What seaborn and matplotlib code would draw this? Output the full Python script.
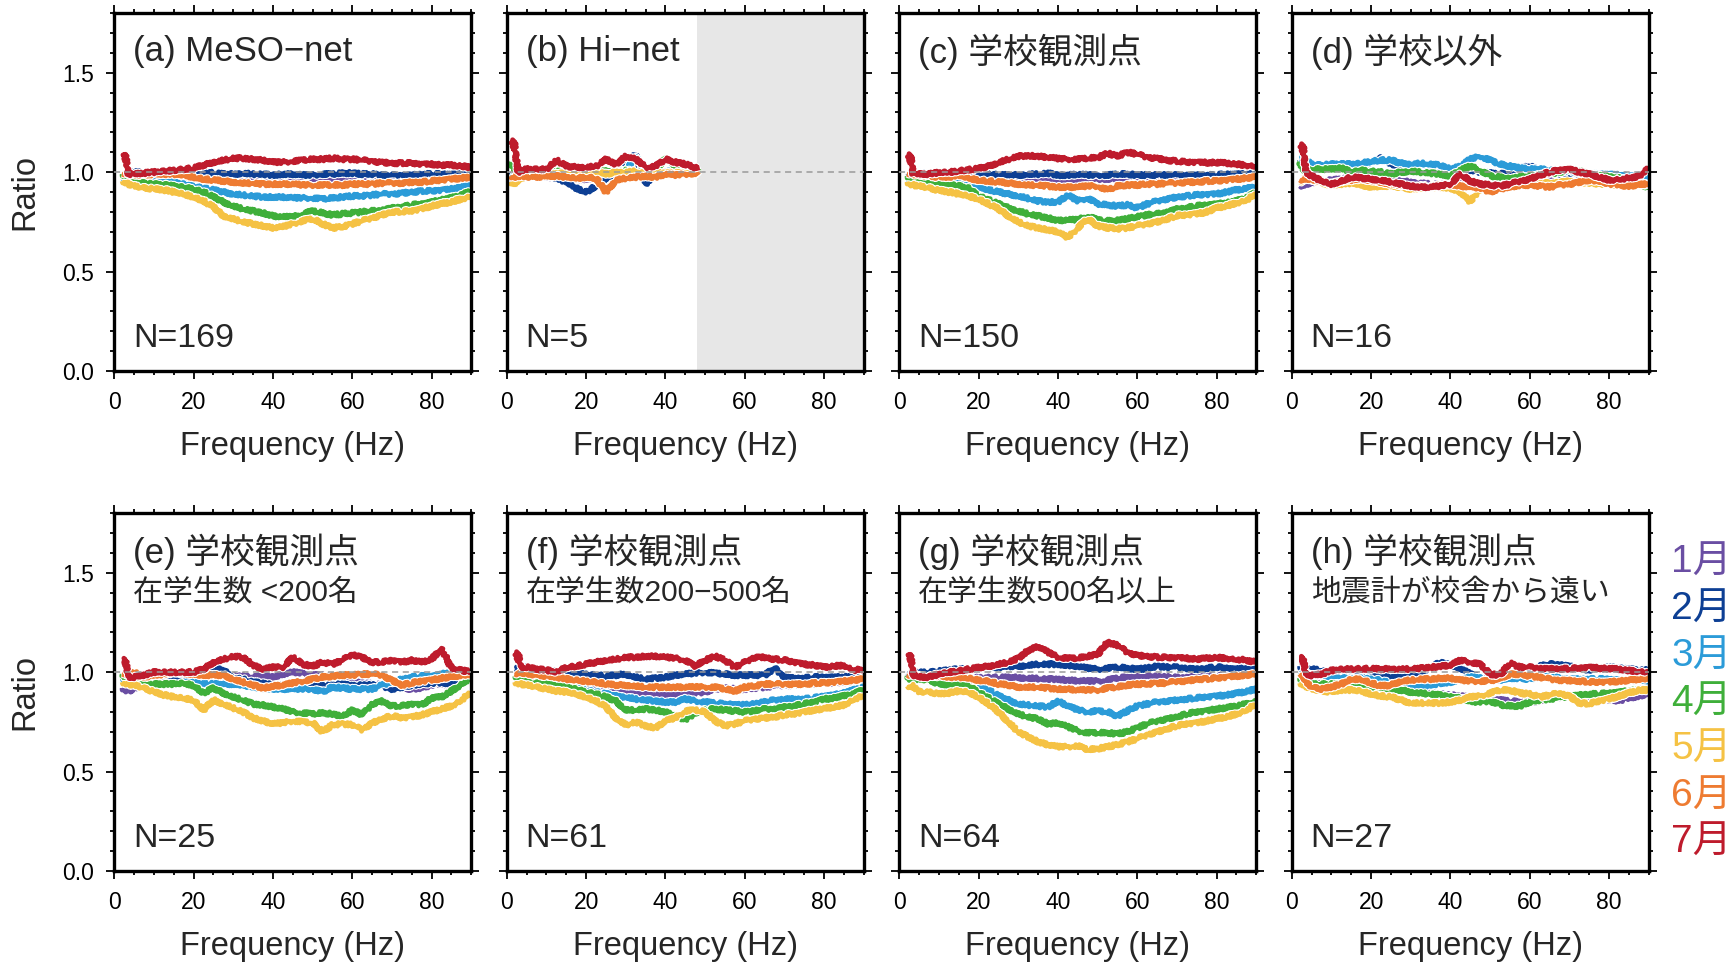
import matplotlib
matplotlib.use("Agg")
import matplotlib.pyplot as plt
import matplotlib.patheffects as pe
from matplotlib.ticker import MultipleLocator, FormatStrFormatter
import pandas as pd
import seaborn as sns

# frequency grid (Hz) the curves were read at
FREQ = [2, 2.8, 3.5, 5, 7.5, 10, 12.5, 15, 17.5, 20, 22.5, 25, 27.5, 30, 32.5, 35, 37.5, 40, 42.5,
        45, 47.5, 50, 52.5, 55, 57.5, 60, 62.5, 65, 67.5, 70, 72.5, 75, 77.5, 80, 82.5, 85, 87.5, 90]
FREQ_B = [1, 1.8, 2.8, 5, 7.5, 10, 12.5, 15, 17.5, 20, 22.5, 25, 27.5, 30, 32.5, 35, 37.5, 40, 42.5, 45, 48.5]

MONTHS = ["1月", "2月", "3月", "4月", "5月", "6月", "7月"]
COLORS = ["#6a4ea3", "#0d3f94", "#2b9bd8", "#3faf3a", "#f5c244", "#ee7b31", "#be1b2c"]

# (a) MeSO-net
a1 = [0.96, 0.975, 0.98, 0.985, 0.985, 0.98, 0.98, 0.98, 0.975, 0.975, 0.975, 0.97, 0.97, 0.97, 0.965, 0.965, 0.965, 0.965, 0.965,
      0.96, 0.965, 0.965, 0.965, 0.965, 0.97, 0.97, 0.97, 0.97, 0.97, 0.965, 0.965, 0.965, 0.965, 0.965, 0.97, 0.97, 0.975, 0.975]
a2 = [0.99, 1.0, 1.0, 1.0, 1.0, 0.995, 1.0, 1.0, 1.005, 1.0, 1.0, 0.995, 0.99, 0.99, 0.995, 0.99, 0.99, 0.985, 0.99,
      0.99, 0.985, 0.985, 0.99, 0.99, 0.995, 0.995, 0.99, 0.99, 0.985, 0.985, 0.985, 0.985, 0.99, 0.99, 0.99, 0.99, 0.995, 0.995]
a3 = [0.97, 0.975, 0.98, 0.98, 0.975, 0.965, 0.96, 0.95, 0.94, 0.93, 0.92, 0.91, 0.9, 0.89, 0.885, 0.88, 0.875, 0.875, 0.875,
      0.87, 0.87, 0.87, 0.865, 0.87, 0.875, 0.88, 0.88, 0.885, 0.89, 0.89, 0.895, 0.9, 0.905, 0.905, 0.91, 0.915, 0.925, 0.93]
a4 = [0.99, 0.98, 0.965, 0.955, 0.945, 0.94, 0.935, 0.93, 0.925, 0.915, 0.9, 0.875, 0.85, 0.83, 0.815, 0.805, 0.795, 0.78, 0.775,
      0.775, 0.79, 0.805, 0.795, 0.785, 0.79, 0.795, 0.8, 0.805, 0.81, 0.82, 0.825, 0.835, 0.84, 0.85, 0.86, 0.87, 0.885, 0.905]
a5 = [0.955, 0.95, 0.94, 0.93, 0.92, 0.915, 0.91, 0.9, 0.89, 0.875, 0.855, 0.825, 0.78, 0.765, 0.75, 0.74, 0.73, 0.72, 0.725,
      0.74, 0.755, 0.765, 0.74, 0.72, 0.725, 0.74, 0.755, 0.77, 0.785, 0.8, 0.8, 0.805, 0.815, 0.83, 0.84, 0.85, 0.865, 0.88]
a6 = [0.99, 1.0, 0.99, 0.985, 0.985, 0.99, 0.99, 0.99, 0.985, 0.975, 0.965, 0.96, 0.955, 0.95, 0.945, 0.945, 0.94, 0.94, 0.94,
      0.94, 0.935, 0.935, 0.935, 0.935, 0.935, 0.94, 0.94, 0.94, 0.945, 0.945, 0.945, 0.95, 0.95, 0.955, 0.96, 0.965, 0.97, 0.975]
a7 = [1.06, 1.09, 0.99, 0.99, 0.995, 1.0, 1.005, 1.01, 1.015, 1.02, 1.035, 1.05, 1.06, 1.07, 1.07, 1.065, 1.06, 1.05, 1.05,
      1.055, 1.06, 1.065, 1.065, 1.07, 1.065, 1.065, 1.06, 1.055, 1.05, 1.045, 1.045, 1.045, 1.04, 1.04, 1.035, 1.035, 1.03, 1.025]

# (b) Hi-net (only up to ~48 Hz)
b1 = [0.97, 0.97, 0.975, 0.98, 0.98, 0.975, 0.97, 0.97, 0.965, 0.965, 0.97, 0.975, 0.98, 0.98, 0.98, 0.98, 0.985, 0.99, 0.99, 0.99, 0.995]
b2 = [1.0, 1.0, 1.0, 0.995, 0.99, 0.985, 0.97, 0.95, 0.92, 0.9, 0.93, 0.97, 0.99, 1.04, 1.09, 0.94, 0.99, 1.0, 1.0, 1.0, 1.0]
b3 = [0.98, 0.99, 0.99, 1.0, 1.0, 1.0, 0.995, 0.99, 0.99, 0.99, 0.995, 1.0, 1.0, 1.01, 1.08, 1.0, 1.0, 1.0, 1.01, 1.01, 1.0]
b4 = [1.05, 1.02, 1.0, 1.0, 1.0, 1.0, 1.0, 1.01, 1.005, 1.0, 1.0, 1.005, 1.0, 1.01, 1.0, 1.0, 1.01, 1.07, 1.03, 1.02, 1.01]
b5 = [0.95, 0.94, 0.96, 0.975, 0.98, 0.985, 0.99, 0.995, 0.99, 1.0, 1.0, 0.99, 1.0, 1.0, 1.005, 0.99, 1.0, 0.995, 1.0, 0.99, 1.0]
b6 = [0.98, 0.975, 0.98, 0.975, 0.975, 0.98, 0.98, 0.975, 0.97, 0.975, 0.97, 0.9, 0.96, 0.97, 0.975, 0.98, 0.975, 0.99, 0.985, 0.99, 0.995]
b7 = [1.12, 1.16, 1.0, 1.015, 1.015, 1.015, 1.06, 1.03, 1.025, 1.025, 1.03, 1.065, 1.04, 1.08, 1.065, 1.025, 1.03, 1.065, 1.05, 1.04, 1.015]

# (c) school stations
c1 = [0.96, 0.975, 0.98, 0.985, 0.98, 0.98, 0.975, 0.975, 0.975, 0.97, 0.97, 0.97, 0.965, 0.965, 0.965, 0.965, 0.965, 0.965, 0.965,
      0.96, 0.96, 0.965, 0.965, 0.965, 0.97, 0.97, 0.97, 0.965, 0.965, 0.963, 0.965, 0.965, 0.97, 0.97, 0.97, 0.975, 0.975, 0.98]
c2 = [0.995, 1.0, 1.0, 0.995, 0.995, 0.995, 0.99, 0.99, 0.99, 0.99, 0.99, 0.985, 0.985, 0.985, 0.99, 0.99, 0.995, 0.985, 0.985,
      0.99, 0.985, 0.985, 0.985, 0.99, 0.99, 0.985, 0.985, 0.985, 0.985, 0.985, 0.985, 0.985, 0.985, 0.985, 0.99, 0.99, 0.99, 0.99]
c3 = [0.965, 0.97, 0.97, 0.965, 0.957, 0.95, 0.945, 0.94, 0.932, 0.925, 0.912, 0.9, 0.89, 0.88, 0.868, 0.855, 0.85, 0.85, 0.885,
      0.855, 0.87, 0.84, 0.835, 0.83, 0.835, 0.82, 0.84, 0.855, 0.865, 0.875, 0.88, 0.885, 0.888, 0.89, 0.9, 0.91, 0.918, 0.925]
c4 = [0.98, 0.97, 0.96, 0.95, 0.945, 0.94, 0.935, 0.93, 0.92, 0.88, 0.86, 0.84, 0.82, 0.805, 0.79, 0.78, 0.77, 0.757, 0.76,
      0.76, 0.78, 0.76, 0.755, 0.757, 0.765, 0.775, 0.785, 0.79, 0.8, 0.815, 0.82, 0.83, 0.835, 0.84, 0.845, 0.855, 0.87, 0.9]
c5 = [0.95, 0.94, 0.935, 0.93, 0.92, 0.907, 0.9, 0.89, 0.88, 0.865, 0.84, 0.815, 0.78, 0.75, 0.73, 0.72, 0.71, 0.70, 0.67,
      0.72, 0.765, 0.73, 0.72, 0.715, 0.72, 0.73, 0.74, 0.75, 0.765, 0.78, 0.785, 0.79, 0.8, 0.82, 0.83, 0.845, 0.86, 0.89]
c6 = [0.99, 1.0, 0.99, 0.985, 0.98, 0.975, 0.975, 0.985, 0.97, 0.96, 0.955, 0.95, 0.945, 0.94, 0.935, 0.935, 0.93, 0.925, 0.925,
      0.925, 0.93, 0.93, 0.91, 0.93, 0.935, 0.935, 0.94, 0.94, 0.945, 0.945, 0.95, 0.95, 0.955, 0.955, 0.96, 0.965, 0.97, 0.975]
c7 = [1.05, 1.09, 0.99, 0.99, 0.99, 0.998, 1.0, 1.007, 1.012, 1.018, 1.03, 1.048, 1.065, 1.08, 1.083, 1.08, 1.075, 1.068, 1.065,
      1.065, 1.07, 1.073, 1.095, 1.08, 1.1, 1.09, 1.075, 1.07, 1.06, 1.055, 1.05, 1.05, 1.048, 1.048, 1.045, 1.04, 1.035, 1.03]

# (d) non-school stations
d1 = [0.93, 0.935, 0.94, 0.945, 0.955, 0.96, 0.965, 0.97, 0.965, 0.965, 0.96, 0.955, 0.955, 0.95, 0.945, 0.94, 0.94, 0.94, 0.945,
      0.94, 0.935, 0.93, 0.935, 0.94, 0.945, 0.95, 0.955, 0.955, 0.955, 0.96, 0.96, 0.96, 0.955, 0.955, 0.95, 0.95, 0.945, 0.945]
d2 = [1.06, 1.05, 1.02, 1.03, 1.04, 1.035, 1.035, 1.03, 1.035, 1.05, 1.07, 1.04, 1.035, 1.04, 1.04, 1.035, 1.025, 1.02, 1.0,
      1.01, 1.0, 0.995, 0.99, 1.0, 1.02, 1.03, 1.01, 1.0, 0.99, 0.99, 0.985, 0.98, 0.975, 0.97, 0.965, 0.96, 0.955, 0.95]
d3 = [1.05, 1.07, 1.06, 1.04, 1.035, 1.04, 1.04, 1.04, 1.045, 1.055, 1.06, 1.06, 1.045, 1.04, 1.045, 1.04, 1.035, 1.015, 1.03,
      1.065, 1.08, 1.06, 1.04, 1.03, 1.02, 1.015, 1.015, 1.01, 1.005, 1.005, 1.0, 0.99, 0.99, 0.99, 0.985, 0.98, 0.98, 0.975]
d4 = [1.05, 1.02, 1.0, 1.015, 1.015, 1.015, 1.02, 1.0, 1.01, 1.005, 1.0, 0.99, 1.0, 1.005, 1.0, 0.995, 0.99, 0.98, 1.01,
      1.03, 1.01, 0.98, 0.975, 0.965, 0.975, 0.98, 0.985, 0.99, 1.0, 1.015, 1.005, 0.99, 0.985, 0.975, 0.97, 0.96, 0.945, 0.92]
d5 = [0.95, 0.96, 0.97, 0.96, 0.945, 0.935, 0.94, 0.945, 0.935, 0.925, 0.93, 0.93, 0.925, 0.915, 0.92, 0.925, 0.925, 0.92, 0.9,
      0.85, 0.92, 0.925, 0.935, 0.935, 0.935, 0.94, 0.945, 0.945, 0.95, 0.955, 0.95, 0.945, 0.94, 0.94, 0.935, 0.93, 0.935, 0.94]
d6 = [0.96, 0.965, 0.97, 0.96, 0.955, 0.94, 0.955, 0.96, 0.965, 0.96, 0.95, 0.94, 0.935, 0.93, 0.93, 0.93, 0.935, 0.94, 0.93,
      0.925, 0.92, 0.9, 0.915, 0.925, 0.935, 0.935, 0.93, 0.925, 0.935, 0.94, 0.95, 0.96, 0.955, 0.94, 0.935, 0.93, 0.935, 0.945]
d7 = [1.1, 1.14, 1.0, 0.98, 0.955, 0.94, 0.955, 0.975, 0.97, 0.965, 0.96, 0.95, 0.94, 0.93, 0.925, 0.925, 0.93, 0.94, 0.99,
      0.955, 0.94, 0.935, 0.93, 0.94, 0.955, 0.965, 0.985, 1.0, 1.01, 1.015, 1.0, 0.99, 0.975, 0.96, 0.965, 0.97, 0.98, 1.02]

# (e) schools, < 200 pupils
e1 = [0.92, 0.91, 0.905, 0.915, 0.945, 0.965, 0.97, 0.975, 0.975, 0.975, 0.98, 0.99, 0.985, 0.985, 0.98, 0.975, 0.985, 0.975, 0.99,
      1.0, 0.995, 0.985, 0.985, 0.975, 0.96, 0.95, 0.945, 0.94, 0.935, 0.925, 0.92, 0.915, 0.92, 0.935, 0.94, 0.94, 0.95, 0.97]
e2 = [0.99, 0.98, 0.975, 0.975, 0.98, 0.985, 0.98, 0.975, 0.975, 0.97, 0.985, 1.02, 1.01, 0.97, 0.965, 0.95, 0.945, 0.935, 0.935,
      0.93, 0.935, 0.935, 0.935, 0.935, 0.94, 0.93, 0.935, 0.935, 0.93, 0.915, 0.925, 0.935, 0.94, 0.945, 0.945, 0.945, 0.97, 0.985]
e3 = [0.97, 0.965, 0.97, 0.97, 0.975, 0.985, 0.99, 1.0, 0.99, 0.95, 0.945, 0.94, 0.94, 0.94, 0.935, 0.925, 0.92, 0.917, 0.915,
      0.915, 0.915, 0.915, 0.9, 0.925, 0.92, 0.915, 0.915, 0.915, 0.935, 0.95, 0.965, 0.975, 0.98, 0.98, 0.99, 1.0, 0.995, 0.99]
e4 = [0.99, 0.975, 0.965, 0.95, 0.935, 0.94, 0.94, 0.94, 0.945, 0.933, 0.895, 0.92, 0.895, 0.875, 0.86, 0.84, 0.835, 0.825, 0.815,
      0.8, 0.795, 0.79, 0.795, 0.79, 0.775, 0.81, 0.785, 0.84, 0.855, 0.83, 0.83, 0.84, 0.835, 0.87, 0.875, 0.905, 0.94, 0.975]
e5 = [0.95, 0.945, 0.94, 0.935, 0.92, 0.9, 0.885, 0.875, 0.87, 0.86, 0.81, 0.86, 0.84, 0.82, 0.8, 0.77, 0.755, 0.74, 0.745,
      0.755, 0.75, 0.745, 0.7, 0.735, 0.74, 0.735, 0.71, 0.745, 0.765, 0.78, 0.77, 0.775, 0.785, 0.8, 0.815, 0.83, 0.86, 0.9]
e6 = [0.99, 1.0, 0.985, 1.0, 0.975, 0.985, 0.99, 1.0, 0.995, 0.99, 0.985, 0.985, 0.985, 0.965, 0.95, 0.935, 0.92, 0.93, 0.935,
      0.945, 0.955, 0.965, 0.975, 0.98, 0.985, 0.985, 0.99, 0.99, 0.985, 0.96, 0.935, 0.945, 0.955, 0.96, 0.97, 0.975, 0.985, 0.99]
e7 = [1.04, 1.065, 0.975, 0.975, 0.985, 1.0, 1.0, 1.0, 1.0, 1.0, 1.015, 1.05, 1.065, 1.08, 1.075, 1.035, 1.015, 1.025, 1.025,
      1.075, 1.04, 1.03, 1.05, 1.04, 1.06, 1.09, 1.075, 1.05, 1.05, 1.06, 1.05, 1.06, 1.05, 1.065, 1.12, 1.02, 1.01, 1.0]

# (f) schools, 200-500 pupils
f1 = [0.98, 0.99, 0.99, 0.98, 0.975, 0.97, 0.96, 0.955, 0.95, 0.94, 0.93, 0.92, 0.915, 0.91, 0.9, 0.89, 0.885, 0.885, 0.885,
      0.89, 0.895, 0.9, 0.915, 0.92, 0.915, 0.915, 0.92, 0.925, 0.93, 0.935, 0.935, 0.94, 0.94, 0.945, 0.945, 0.95, 0.955, 0.965]
f2 = [1.0, 1.02, 1.025, 1.025, 1.015, 1.01, 1.005, 1.0, 0.995, 0.99, 0.985, 0.98, 0.985, 0.99, 0.975, 0.965, 0.97, 0.975, 0.985,
      0.99, 0.995, 1.0, 0.995, 0.99, 0.985, 0.985, 0.985, 0.985, 1.02, 0.975, 0.97, 0.97, 0.975, 0.975, 0.975, 0.975, 0.98, 0.985]
f3 = [0.97, 0.98, 0.975, 0.965, 0.955, 0.95, 0.94, 0.935, 0.925, 0.91, 0.9, 0.89, 0.88, 0.875, 0.865, 0.86, 0.855, 0.85, 0.85,
      0.865, 0.855, 0.85, 0.845, 0.84, 0.835, 0.835, 0.84, 0.85, 0.86, 0.865, 0.865, 0.865, 0.87, 0.88, 0.885, 0.895, 0.91, 0.925]
f4 = [0.98, 0.975, 0.97, 0.95, 0.945, 0.94, 0.93, 0.925, 0.915, 0.9, 0.89, 0.875, 0.855, 0.81, 0.81, 0.815, 0.81, 0.8, 0.78,
      0.76, 0.795, 0.81, 0.815, 0.81, 0.805, 0.8, 0.805, 0.815, 0.815, 0.825, 0.83, 0.84, 0.85, 0.865, 0.87, 0.88, 0.89, 0.915]
f5 = [0.95, 0.945, 0.94, 0.935, 0.925, 0.915, 0.905, 0.9, 0.89, 0.875, 0.855, 0.825, 0.77, 0.735, 0.75, 0.73, 0.72, 0.755, 0.77,
      0.805, 0.81, 0.8, 0.755, 0.73, 0.74, 0.755, 0.765, 0.77, 0.775, 0.785, 0.79, 0.8, 0.81, 0.815, 0.825, 0.835, 0.865, 0.88]
f6 = [0.99, 1.0, 1.0, 0.99, 0.985, 0.98, 0.975, 0.965, 0.96, 0.955, 0.95, 0.94, 0.935, 0.935, 0.93, 0.925, 0.925, 0.925, 0.925,
      0.925, 0.925, 0.925, 0.925, 0.915, 0.905, 0.925, 0.93, 0.94, 0.94, 0.94, 0.94, 0.94, 0.945, 0.945, 0.95, 0.955, 0.96, 0.965]
f7 = [1.06, 1.1, 1.025, 1.025, 1.015, 1.01, 1.0, 1.025, 1.03, 1.04, 1.05, 1.06, 1.065, 1.075, 1.075, 1.08, 1.08, 1.075, 1.07,
      1.06, 1.03, 1.06, 1.08, 1.06, 1.025, 1.05, 1.075, 1.075, 1.065, 1.06, 1.05, 1.04, 1.035, 1.025, 1.03, 1.035, 1.01, 1.015]

# (g) schools, 500+ pupils
g1 = [0.98, 0.985, 0.985, 0.98, 0.975, 0.975, 0.975, 0.975, 0.97, 0.973, 0.973, 0.973, 0.973, 0.973, 0.97, 0.968, 0.965, 0.965, 0.96,
      0.957, 0.955, 0.955, 0.96, 0.97, 0.975, 0.98, 0.98, 0.977, 0.975, 0.973, 0.975, 0.978, 0.98, 0.98, 0.983, 0.985, 0.99, 0.998]
g2 = [0.995, 1.0, 1.0, 0.998, 1.0, 1.005, 1.01, 1.015, 1.015, 1.023, 1.025, 1.025, 1.03, 1.03, 1.035, 1.04, 1.04, 1.04, 1.035,
      1.03, 1.02, 1.015, 1.02, 1.025, 1.02, 1.015, 1.02, 1.03, 1.025, 1.025, 1.02, 1.015, 1.02, 1.025, 1.02, 1.015, 1.02, 1.025]
g3 = [0.97, 0.975, 0.975, 0.965, 0.965, 0.965, 0.96, 0.957, 0.95, 0.935, 0.91, 0.88, 0.86, 0.84, 0.835, 0.83, 0.825, 0.855, 0.83,
      0.81, 0.8, 0.805, 0.8, 0.78, 0.805, 0.83, 0.84, 0.85, 0.855, 0.86, 0.865, 0.87, 0.875, 0.88, 0.885, 0.893, 0.903, 0.915]
g4 = [0.98, 0.965, 0.96, 0.965, 0.96, 0.94, 0.935, 0.94, 0.93, 0.9, 0.87, 0.84, 0.815, 0.79, 0.775, 0.765, 0.74, 0.745, 0.725,
      0.705, 0.695, 0.695, 0.695, 0.69, 0.7, 0.72, 0.74, 0.755, 0.765, 0.775, 0.79, 0.8, 0.805, 0.815, 0.82, 0.83, 0.84, 0.855]
g5 = [0.93, 0.93, 0.93, 0.9, 0.9, 0.89, 0.895, 0.905, 0.9, 0.875, 0.84, 0.8, 0.75, 0.7, 0.675, 0.65, 0.635, 0.625, 0.625,
      0.63, 0.61, 0.615, 0.625, 0.635, 0.65, 0.665, 0.685, 0.7, 0.715, 0.73, 0.74, 0.745, 0.755, 0.765, 0.775, 0.79, 0.81, 0.84]
g6 = [0.985, 0.99, 0.99, 0.98, 0.98, 0.98, 0.975, 0.975, 0.97, 0.96, 0.955, 0.94, 0.935, 0.925, 0.925, 0.925, 0.92, 0.915, 0.915,
      0.91, 0.91, 0.91, 0.92, 0.925, 0.935, 0.94, 0.94, 0.945, 0.945, 0.955, 0.955, 0.965, 0.965, 0.97, 0.975, 0.98, 0.985, 0.99]
g7 = [1.06, 1.09, 0.985, 0.975, 0.975, 0.99, 1.0, 1.007, 1.015, 1.023, 1.03, 1.04, 1.05, 1.07, 1.11, 1.13, 1.1, 1.075, 1.07,
      1.07, 1.08, 1.09, 1.15, 1.135, 1.1, 1.085, 1.08, 1.075, 1.073, 1.073, 1.07, 1.065, 1.07, 1.073, 1.07, 1.065, 1.06, 1.05]

# (h) schools, seismometer far from building
h1 = [0.97, 0.965, 0.96, 0.955, 0.95, 0.94, 0.94, 0.935, 0.93, 0.93, 0.925, 0.92, 0.915, 0.91, 0.905, 0.895, 0.89, 0.885, 0.88,
      0.875, 0.87, 0.865, 0.86, 0.855, 0.85, 0.85, 0.855, 0.87, 0.875, 0.87, 0.87, 0.865, 0.865, 0.86, 0.855, 0.87, 0.88, 0.89]
h2 = [1.03, 1.02, 1.015, 1.015, 1.01, 0.99, 0.995, 0.99, 0.99, 0.985, 0.985, 0.975, 0.985, 0.99, 1.0, 1.025, 1.05, 1.035, 1.02,
      0.99, 0.975, 0.97, 0.985, 0.99, 1.0, 1.01, 1.03, 1.04, 1.04, 1.03, 1.02, 1.01, 1.02, 1.025, 1.02, 1.015, 1.01, 1.01]
h3 = [1.0, 1.005, 0.995, 0.985, 0.98, 0.97, 0.97, 0.965, 0.97, 0.965, 0.96, 0.94, 0.935, 0.925, 0.925, 0.935, 0.945, 0.95, 0.965,
      0.975, 0.97, 0.96, 0.96, 0.97, 0.97, 0.965, 0.975, 0.98, 0.97, 0.965, 0.965, 0.965, 0.965, 0.965, 0.96, 0.96, 0.96, 0.955]
h4 = [0.97, 0.96, 0.955, 0.94, 0.94, 0.94, 0.94, 0.95, 0.945, 0.925, 0.925, 0.915, 0.91, 0.9, 0.895, 0.89, 0.885, 0.875, 0.87,
      0.85, 0.85, 0.855, 0.835, 0.83, 0.83, 0.85, 0.86, 0.865, 0.87, 0.88, 0.885, 0.89, 0.89, 0.895, 0.9, 0.905, 0.91, 0.915]
h5 = [0.945, 0.94, 0.93, 0.915, 0.905, 0.9, 0.91, 0.91, 0.905, 0.89, 0.88, 0.875, 0.86, 0.845, 0.845, 0.845, 0.845, 0.85, 0.86,
      0.875, 0.88, 0.895, 0.91, 0.91, 0.895, 0.89, 0.875, 0.885, 0.895, 0.88, 0.845, 0.84, 0.855, 0.865, 0.88, 0.895, 0.91, 0.91]
h6 = [0.99, 0.99, 0.95, 0.925, 0.915, 0.925, 0.94, 0.965, 0.965, 0.945, 0.93, 0.935, 0.955, 0.96, 0.965, 0.965, 0.97, 0.97, 0.96,
      0.955, 0.955, 0.955, 0.97, 0.99, 0.99, 0.98, 0.975, 0.965, 0.96, 0.958, 0.955, 0.95, 0.95, 0.95, 0.955, 0.958, 0.965, 0.97]
h7 = [1.05, 1.075, 0.99, 0.983, 0.99, 1.008, 1.015, 1.017, 1.017, 1.017, 1.015, 1.017, 1.015, 1.017, 1.02, 1.025, 1.03, 1.035, 1.06,
      1.05, 1.04, 0.99, 0.985, 1.045, 1.025, 1.025, 1.02, 1.017, 1.017, 1.017, 1.02, 1.025, 1.02, 1.017, 1.015, 1.008, 1.005, 1.0]

panels = [
    ("(a) MeSO−net", None, "N=169", FREQ, [a1, a2, a3, a4, a5, a6, a7]),
    ("(b) Hi−net", None, "N=5", FREQ_B, [b1, b2, b3, b4, b5, b6, b7]),
    ("(c) 学校観測点", None, "N=150", FREQ, [c1, c2, c3, c4, c5, c6, c7]),
    ("(d) 学校以外", None, "N=16", FREQ, [d1, d2, d3, d4, d5, d6, d7]),
    ("(e) 学校観測点", "在学生数 <200名", "N=25", FREQ, [e1, e2, e3, e4, e5, e6, e7]),
    ("(f) 学校観測点", "在学生数200−500名", "N=61", FREQ, [f1, f2, f3, f4, f5, f6, f7]),
    ("(g) 学校観測点", "在学生数500名以上", "N=64", FREQ, [g1, g2, g3, g4, g5, g6, g7]),
    ("(h) 学校観測点", "地震計が校舎から遠い", "N=27", FREQ, [h1, h2, h3, h4, h5, h6, h7]),
]

sns.set_style("ticks")
plt.rcParams["font.family"] = ["Liberation Sans", "Noto Sans CJK JP"]

fig = plt.figure(figsize=(17.29, 9.73), dpi=100)

for i, (title, sub, ntext, freq, series) in enumerate(panels):
    row, col = divmod(i, 4)
    left = (114.3 + 392.5 * col) / 1729
    bottom = 0.6187 if row == 0 else 0.1048
    ax = fig.add_axes([left, bottom, 357 / 1729, 358 / 973])

    df = pd.DataFrame({
        "freq": freq * len(MONTHS),
        "ratio": sum(series, []),
        "month": [m for m in MONTHS for _ in freq],
    })

    if i == 1:
        ax.axvspan(48, 90, color="#e7e7e7", lw=0, zorder=0)

    sns.lineplot(data=df, x="freq", y="ratio", hue="month", hue_order=MONTHS,
                 palette=COLORS, lw=3.5, legend=False, estimator=None, sort=False, ax=ax)
    for ln in ax.lines:
        ln.set_sketch_params(scale=1.8, length=2.5, randomness=2)
        ln.set_path_effects([pe.Stroke(linewidth=5.1, foreground="white"), pe.Normal()])
        ln.set_solid_capstyle("butt")

    ax.axhline(1.0, color="#9a9a9a", lw=1.1, ls=(0, (4, 3)), zorder=5)

    ax.set_xlim(0, 90)
    ax.set_ylim(0, 1.8)
    ax.xaxis.set_major_locator(MultipleLocator(20))
    ax.xaxis.set_minor_locator(MultipleLocator(5))
    ax.yaxis.set_major_locator(MultipleLocator(0.5))
    ax.yaxis.set_minor_locator(MultipleLocator(0.1))
    ax.yaxis.set_major_formatter(FormatStrFormatter("%.1f"))
    ax.tick_params(which="both", direction="out", top=True, right=True,
                   width=1.3, labelsize=16.5, pad=9, colors="black")
    ax.tick_params(which="major", length=5.5)
    ax.tick_params(which="minor", length=3)
    for s in ax.spines.values():
        s.set_linewidth(2.4)
        s.set_color("black")

    ax.set_xlabel("Frequency (Hz)", fontsize=23.5, labelpad=12)
    if col == 0:
        ax.set_ylabel("Ratio", fontsize=23.5, labelpad=16)
    else:
        ax.set_ylabel("")
        ax.tick_params(labelleft=False)

    ax.text(0.053, 0.892, title, transform=ax.transAxes, fontsize=25, va="center", ha="left")
    if sub:
        ax.text(0.053, 0.777, sub, transform=ax.transAxes, fontsize=21.5, va="center", ha="left")
    ax.text(0.053, 0.092, ntext, transform=ax.transAxes, fontsize=24.5, va="center", ha="left")

# month legend to the right of the bottom row
for k, (m, c) in enumerate(zip(MONTHS, COLORS)):
    fig.text(0.9665, 1 - (563 + 46.7 * k) / 973, m, color=c, fontsize=28, va="center", ha="left")

fig.savefig("out.png", dpi=100)
